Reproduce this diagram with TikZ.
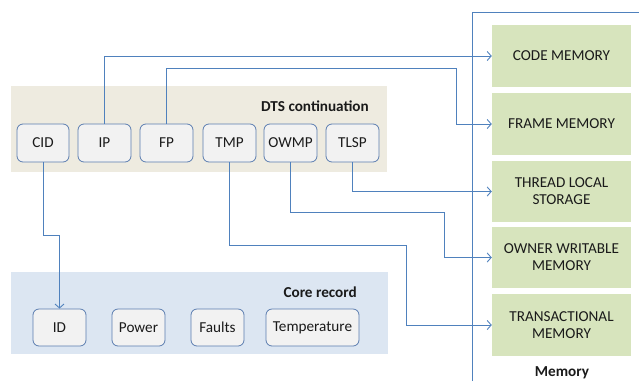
\documentclass[tikz,border=0pt]{standalone}
\usepackage{fontspec}
\setmainfont{Carlito}
\usetikzlibrary{arrows.meta}
\definecolor{dtsbg}{HTML}{EEEBE0}
\definecolor{corebg}{HTML}{DCE6F2}
\definecolor{boxfill}{HTML}{F2F2F2}
\definecolor{boxline}{HTML}{5B7DB0}
\definecolor{memfill}{HTML}{D7E4BD}
\definecolor{wire}{HTML}{4F81BD}
\definecolor{txt}{HTML}{1A1A1A}
\begin{document}
\begin{tikzpicture}[x=1pt,y=-1pt,
  every node/.style={font=\fontsize{15.2}{17}\selectfont, text=txt, inner sep=0pt},
  field/.style={draw=boxline, line width=0.8pt, fill=boxfill, rounded corners=6pt, minimum height=38pt, minimum width=53pt},
  membox/.style={fill=memfill, minimum width=139pt, minimum height=62pt, align=center},
  grouplabel/.style={font=\fontsize{15.2}{17}\selectfont\bfseries, anchor=east},
  wireline/.style={draw=wire, line width=0.9pt},
  link/.style={wireline, -{Straight Barb[length=4pt,width=9pt]}}
]
\useasboundingbox (0,0) rectangle (639,381);
% backgrounds
\fill[dtsbg] (11,86) rectangle (387,172);
\fill[corebg] (11,272) rectangle (388,354);
\node[grouplabel] (dtslabel) at (369,106) {DTS continuation};
\node[grouplabel] (corelabel) at (357,292) {Core record};
% DTS fields
\node[field, minimum width=52pt] (cid) at (43,143) {CID};
\node[field] (ip) at (104.5,143) {IP};
\node[field] (fp) at (166.5,143) {FP};
\node[field] (tmp) at (229.5,143) {TMP};
\node[field] (owmp) at (290.5,143) {OWMP};
\node[field] (tlsp) at (352.5,143) {TLSP};
% core fields
\node[field, minimum height=37pt] (id) at (59.5,327.5) {ID};
\node[field, minimum height=37pt] (power) at (138.5,327.5) {Power};
\node[field, minimum height=37pt] (faults) at (217.5,327.5) {Faults};
\node[field, minimum height=37pt, minimum width=93pt] (temp) at (312.5,327.5) {Temperature};
% memory frame
\coordinate (frtop) at (472,12);
\coordinate (frright) at (639,12);
\coordinate (frbot) at (472,381);
\draw[wireline] (frbot) -- (frtop) -- (frright);
\node[membox] (code) at (561.5,56) {CODE MEMORY};
\node[membox] (frame) at (561.5,124) {FRAME MEMORY};
\node[membox, minimum height=61pt] (thread) at (561.5,191.5) {THREAD LOCAL\\STORAGE};
\node[membox, minimum height=61pt] (owner) at (561.5,257.5) {OWNER WRITABLE\\MEMORY};
\node[membox] (trans) at (561.5,325) {TRANSACTIONAL\\MEMORY};
\node[font=\fontsize{15.2}{17}\selectfont\bfseries] (memlabel) at (562,373) {Memory};
% turning points
\coordinate (fpturn) at (456,68);
\coordinate (owturn) at (444,212);
\coordinate (tmpturn) at (406,245);
\coordinate (cidturn) at (59.5,235);
% connectors
\draw[link] (ip.north) -- (ip.north |- code.west) -- (code.west);
\draw[link] (fp.north) |- (fpturn) |- (frame.west);
\draw[link] (tlsp.south) |- (thread.west);
\draw[link] (owmp.south) |- (owturn) |- (owner.west);
\draw[link] (tmp.south) |- (tmpturn) |- (trans.west);
\draw[link] (cid.south) |- (cidturn) -- (id.north);
\end{tikzpicture}
\end{document}
